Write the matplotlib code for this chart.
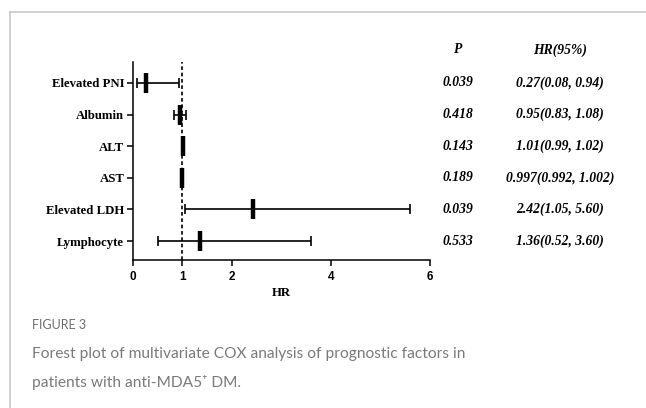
import matplotlib.pyplot as plt
from matplotlib.lines import Line2D

# forest plot data
factors = ["Elevated PNI", "Albumin", "ALT", "AST", "Elevated LDH", "Lymphocyte"]
hr = [0.27, 0.95, 1.01, 0.997, 2.42, 1.36]
ci_low = [0.08, 0.83, 0.99, 0.992, 1.05, 0.52]
ci_high = [0.94, 1.08, 1.02, 1.002, 5.60, 3.60]
p_vals = ["0.039", "0.418", "0.143", "0.189", "0.039", "0.533"]
hr_text = ["0.27(0.08, 0.94)", "0.95(0.83, 1.08)", "1.01(0.99, 1.02)",
           "0.997(0.992, 1.002)", "2.42(1.05, 5.60)", "1.36(0.52, 3.60)"]
xticks = [0, 1, 2, 4, 6]

fig = plt.figure(figsize=(6.46, 4.08), dpi=100)
ax = fig.add_axes([0.2053, 0.3627, 0.4604, 0.4853])

ypos = [len(factors) - i for i in range(len(factors))]
err = [[h - l for h, l in zip(hr, ci_low)], [u - h for h, u in zip(hr, ci_high)]]

ax.axvline(1, color="black", lw=1.2, linestyle=(0, (2.2, 1.6)), zorder=1)
ax.errorbar(hr, ypos, xerr=err, fmt="none", ecolor="black", elinewidth=1.2,
            capsize=3.4, capthick=1.2, zorder=2)
ax.plot(hr, ypos, linestyle="none", marker="|", markersize=15, mew=3.2,
        color="black", zorder=3)

ax.set_xlim(0, 6)
ax.set_ylim(0.4, 6.66)
ax.set_xticks(xticks)
ax.set_xticklabels([str(t) for t in xticks], fontfamily="Liberation Sans",
                   fontweight="bold", fontsize=8.5)
ax.set_yticks(ypos)
ax.set_yticklabels(factors, fontfamily="Liberation Serif", fontweight="bold",
                   fontsize=9.2)
ax.tick_params(axis="both", length=4, width=1.1, pad=2)
ax.tick_params(axis="x", pad=4)
ax.set_xlabel("HR", fontfamily="Liberation Serif", fontweight="bold",
              fontsize=9.2, labelpad=3)
for s in ["top", "right"]:
    ax.spines[s].set_visible(False)
for s in ["left", "bottom"]:
    ax.spines[s].set_linewidth(1.1)

# text columns on the right
tr = ax.get_yaxis_transform()
txt = dict(fontfamily="Liberation Serif", fontweight="bold", fontstyle="italic",
           fontsize=9.8, ha="center", va="center", transform=tr, clip_on=False)
ax.text(1.094, 7.04, "P", **txt)
ax.text(1.437, 7.04, "HR(95%)", **txt)
for y, p, t in zip(ypos, p_vals, hr_text):
    ax.text(1.094, y, p, **txt)
    ax.text(1.437, y, t, **txt)

# page frame lines
fig.add_artist(Line2D([9.5 / 646, 1], [1 - 11.5 / 408] * 2, color="#c8c8c8", lw=1.2))
fig.add_artist(Line2D([9.5 / 646] * 2, [0, 1 - 11.5 / 408], color="#c8c8c8", lw=1.2))

# caption
cap_font = ["Lato", "DejaVu Sans"]
fig.text(32 / 646, 1 - 325 / 408, "FIGURE 3", fontfamily=cap_font,
         fontsize=9, color="#6e6e6e", va="center")
fig.text(32 / 646, 1 - 354 / 408,
         "Forest plot of multivariate COX analysis of prognostic factors in",
         fontfamily=cap_font, fontsize=11.2, color="#7a7a7a", va="center")
fig.text(32 / 646, 1 - 383 / 408, "patients with anti-MDA5\u207a DM.",
         fontfamily=cap_font, fontsize=11.2, color="#7a7a7a", va="center")

fig.savefig("out.png", dpi=100)
